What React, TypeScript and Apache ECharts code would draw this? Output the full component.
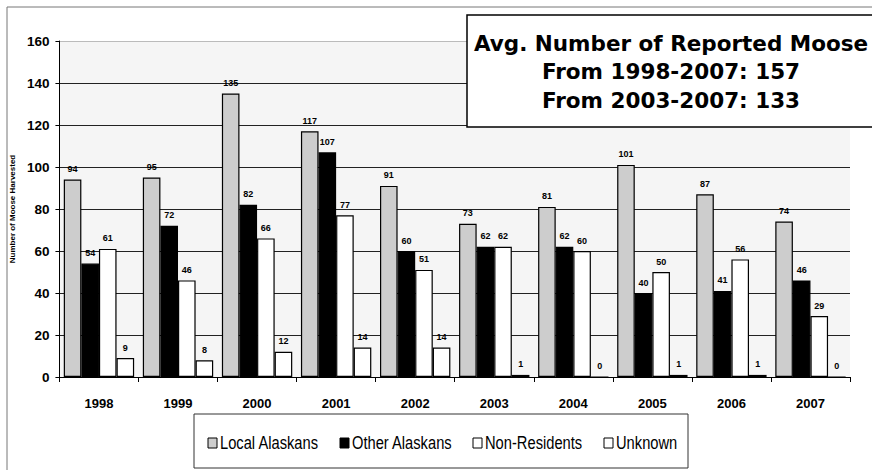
import React, { useEffect, useRef } from "react";
import * as echarts from "echarts";

const years = ["1998", "1999", "2000", "2001", "2002", "2003", "2004", "2005", "2006", "2007"];
const localAlaskans = [94, 95, 135, 117, 91, 73, 81, 101, 87, 74];
const otherAlaskans = [54, 72, 82, 107, 60, 62, 62, 40, 41, 46];
const nonResidents = [61, 46, 66, 77, 51, 62, 60, 50, 56, 29];
const unknown = [9, 8, 12, 14, 14, 1, 0, 1, 1, 0];
const seriesNames = ["Local Alaskans", "Other Alaskans", "Non-Residents", "Unknown"];
const annotationLines = ["Avg. Number of Reported Moose", "From 1998-2007: 157", "From 2003-2007: 133"];

const SANS = "'Liberation Sans', Arial, sans-serif";
const BOX = "'DejaVu Sans', Verdana, sans-serif";

export default function App() {
  const ref = useRef<HTMLDivElement>(null);
  useEffect(() => {
    if (!ref.current) return;
    const chart = echarts.init(ref.current, null, { renderer: "svg" });
    const fills = ["#cdcdcd", "#000000", "#ffffff", "#ffffff"];
    const data = [localAlaskans, otherAlaskans, nonResidents, unknown];
    const legendX = [208, 340, 473, 604];
    const legendY = 443;
    const legendGraphics: any[] = [
      {
        type: "rect",
        shape: { x: 194, y: 414, width: 494, height: 54 },
        style: { fill: "#ffffff", stroke: "#333", lineWidth: 1 },
        z: 50,
      },
    ];
    seriesNames.forEach((name, i) => {
      legendGraphics.push({
        type: "rect",
        shape: { x: legendX[i], y: legendY - 5, width: 9, height: 10 },
        style: { fill: fills[i], stroke: "#000", lineWidth: 1 },
        z: 51,
      });
      legendGraphics.push({
        type: "text",
        x: legendX[i] + 12,
        y: legendY,
        scaleX: 0.84,
        z: 51,
        style: {
          text: name,
          fontFamily: SANS,
          fontSize: 17.5,
          fill: "#000",
          align: "left",
          verticalAlign: "middle",
        },
      });
    });
    const option: any = {
      animation: false,
      backgroundColor: "#ffffff",
      grid: {
        left: 57,
        right: 22,
        top: 41,
        bottom: 94,
        show: true,
        backgroundColor: "#f5f5f5",
        borderWidth: 0,
      },
      xAxis: {
        type: "category",
        data: years,
        boundaryGap: true,
        axisLine: { show: true, lineStyle: { color: "#000", width: 1 } },
        axisTick: { show: true, interval: 0, length: 5, lineStyle: { color: "#000" } },
        axisLabel: {
          interval: 0,
          margin: 20,
          fontFamily: SANS,
          fontWeight: "bold",
          fontSize: 13,
          color: "#000",
        },
      },
      yAxis: {
        type: "value",
        min: 0,
        max: 160,
        interval: 20,
        name: "Number of Moose Harvested",
        nameLocation: "middle",
        nameGap: 39,
        nameTextStyle: { fontFamily: SANS, fontWeight: "bold", fontSize: 8, color: "#000" },
        axisLine: { show: true, lineStyle: { color: "#000", width: 1 } },
        axisTick: { show: true, length: 4, lineStyle: { color: "#000" } },
        axisLabel: {
          margin: 10,
          fontFamily: SANS,
          fontWeight: "bold",
          fontSize: 13.5,
          color: "#000",
        },
        splitLine: {
          show: true,
          lineStyle: { color: ["#222", "#222", "#222", "#222", "#222", "#222", "#222", "#222", "#bbb"], width: 1 },
        },
      },
      series: seriesNames.map((name, i) => ({
        name,
        type: "bar",
        data: data[i],
        barGap: "0%",
        barCategoryGap: "11%",
        itemStyle: { color: fills[i], borderColor: "#000", borderWidth: 1.2 },
        label: {
          show: true,
          position: "top",
          distance: 6,
          fontFamily: SANS,
          fontWeight: "bold",
          fontSize: 9,
          color: "#000",
        },
      })),
      graphic: [
        {
          type: "polyline",
          shape: { points: [[7, 470], [7, 7], [872, 7]] },
          style: { stroke: "#777", lineWidth: 1, fill: null },
          silent: true,
        },
        {
          type: "rect",
          shape: { x: 467, y: 15, width: 420, height: 112 },
          style: { fill: "#ffffff", stroke: "#000", lineWidth: 1.5 },
          z: 100,
        },
        ...annotationLines.map((t, i) => ({
          type: "text",
          x: 671,
          y: 43 + i * 28.5,
          z: 101,
          style: {
            text: t,
            fontFamily: BOX,
            fontWeight: "bold",
            fontSize: 21.5,
            fill: "#000",
            align: "center",
            verticalAlign: "middle",
          },
        })),
        ...legendGraphics,
      ],
    };
    chart.setOption(option);
    return () => chart.dispose();
  }, []);
  return <div ref={ref} style={{ position: "fixed", left: 0, top: 0, width: 872, height: 471 }} />;
}
